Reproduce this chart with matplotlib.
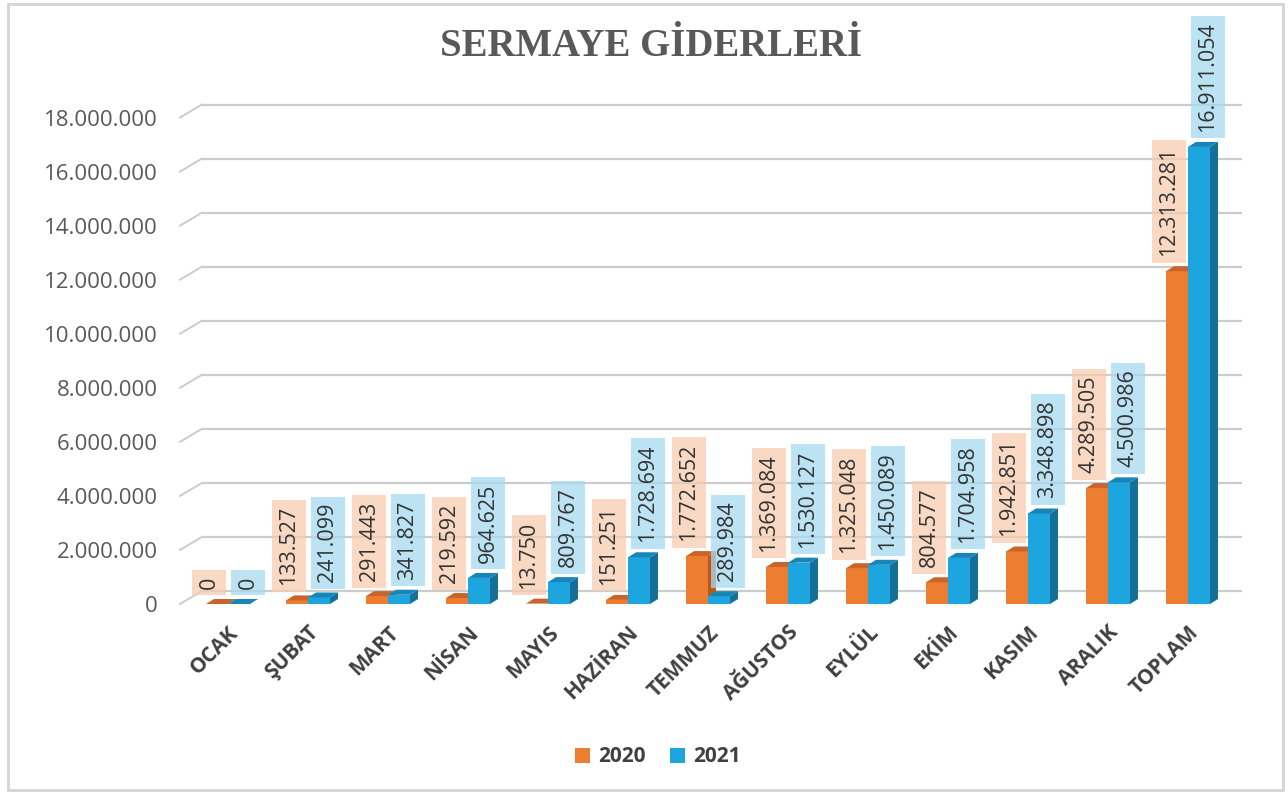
import matplotlib
matplotlib.use('Agg')
import matplotlib.pyplot as plt
from matplotlib.patches import Polygon, Rectangle

categories = ['OCAK', 'ŞUBAT', 'MART', 'NİSAN', 'MAYIS', 'HAZİRAN', 'TEMMUZ',
              'AĞUSTOS', 'EYLÜL', 'EKİM', 'KASIM', 'ARALIK', 'TOPLAM']
values_2020 = [0, 133527, 291443, 219592, 13750, 151251, 1772652, 1369084,
               1325048, 804577, 1942851, 4289505, 12313281]
values_2021 = [0, 241099, 341827, 964625, 809767, 1728694, 289984, 1530127,
               1450089, 1704958, 3348898, 4500986, 16911054]
series_names = ['2020', '2021']
y_ticks = [0, 2000000, 4000000, 6000000, 8000000, 10000000, 12000000,
           14000000, 16000000, 18000000]
title = 'SERMAYE GİDERLERİ'

plt.rcParams['font.family'] = ['Open Sans', 'DejaVu Sans']


def fmt(v):
    return f"{v:,}".replace(',', '.')


W, H = 1288, 794
fig = plt.figure(figsize=(W / 100, H / 100), dpi=100)
ax_left, ax_bottom, ax_w, ax_h = 180, 190, 1040, 500
ax = fig.add_axes([ax_left / W, ax_bottom / H, ax_w / W, ax_h / H])
xmin, xmax = -0.6, 12.4
ymax = 18.5e6
ax.set_xlim(xmin, xmax)
ax.set_ylim(0, ymax)
px_x = ax_w / (xmax - xmin)
px_y = ax_h / ymax

for s in ax.spines.values():
    s.set_visible(False)

# back wall gridlines
wall_dx, wall_dy = 22, 13
wdx, wdy = wall_dx / px_x, wall_dy / px_y
grid_c = '#CCCCCC'
for t in y_ticks:
    ax.plot([xmin + wdx, xmax + wdx], [t + wdy, t + wdy], color=grid_c, lw=1.6,
            zorder=0, clip_on=False, solid_capstyle='butt')
    ax.plot([xmin, xmin + wdx], [t, t + wdy], color=grid_c, lw=1.4,
            zorder=0, clip_on=False)

# 3D bars
bw = 0.275
ddx, ddy = 8 / px_x, 5 / px_y
series = [
    (values_2020, -bw / 2, '#ED7D31', '#B8581F', '#C9652A', '#F8CBAD', 0.72, -19),
    (values_2021, bw / 2, '#1DA5DF', '#14709A', '#1785B6', '#A6DAF0', 0.75, 20),
]
x_idx = list(range(len(categories)))
for k, (vals, off, front, side, top, boxc, boxa, lab_dx) in enumerate(series):
    z = 2 + k
    xs = [i + off for i in x_idx]
    ax.bar(xs, vals, width=bw, color=front, linewidth=0, zorder=z)
    for x, v in zip(xs, vals):
        x0, x1 = x - bw / 2, x + bw / 2
        ax.add_patch(Polygon([(x1, 0), (x1, v), (x1 + ddx, v + ddy), (x1 + ddx, ddy)],
                             closed=True, facecolor=side, edgecolor='none', zorder=z))
        ax.add_patch(Polygon([(x0, v), (x1, v), (x1 + ddx, v + ddy), (x0 + ddx, v + ddy)],
                             closed=True, facecolor=top, edgecolor='none', zorder=z))
    for i, v in zip(x_idx, vals):
        ax.annotate(fmt(v), xy=(i, v), xytext=(lab_dx * 0.72, 15 * 0.72),
                    textcoords='offset points', rotation=90, ha='center', va='bottom',
                    fontsize=15.5, fontweight='medium', color='#333333', zorder=6,
                    bbox=dict(boxstyle='square,pad=0.3', facecolor=boxc, alpha=boxa,
                              edgecolor='none'))

ax.set_yticks(y_ticks)
ax.set_yticklabels([fmt(t) for t in y_ticks])
ax.set_xticks(x_idx)
ax.set_xticklabels(categories, rotation=45, ha='right', rotation_mode='anchor',
                   fontweight='bold')
ax.tick_params(axis='y', length=0, pad=22 * 0.72, labelsize=16, labelcolor='#595959')
ax.tick_params(axis='x', length=0, pad=13, labelsize=15, labelcolor='#404040')

# title
fig.text(651 / W, 1 - 46 / H, title, ha='center', va='center',
         family=['Liberation Serif', 'DejaVu Serif'], fontweight='bold', fontsize=28,
         color='#595959')

# legend
handles = [Rectangle((0, 0), 1, 1, facecolor=c, edgecolor='none')
           for c in ['#ED7D31', '#1DA5DF']]
leg = fig.legend(handles, series_names, loc='center', bbox_to_anchor=(658 / W, 1 - 757 / H),
                 ncol=2, frameon=False, handlelength=0.7, handleheight=0.7,
                 handletextpad=0.4, columnspacing=1.2,
                 prop={'weight': 'bold', 'size': 15})
for t in leg.get_texts():
    t.set_color('#404040')

# outer border
fig.patches.append(Rectangle((8 / W, 4 / H), (1283 - 8) / W, (790 - 4) / H,
                             transform=fig.transFigure, fill=False,
                             edgecolor='#D4D4D4', lw=2))

fig.savefig('out.png', dpi=100)
